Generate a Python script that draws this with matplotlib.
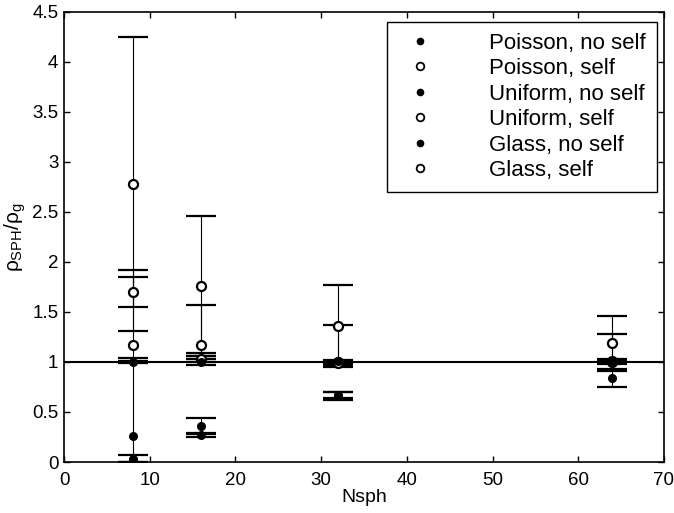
"""
Ratio of SPH density to true density versus number of neighbours
"""

import matplotlib.pyplot as plt
from matplotlib.lines import Line2D

plt.rcParams['font.family'] = ['Liberation Sans', 'DejaVu Sans']
plt.rcParams['mathtext.fontset'] = 'custom'
plt.rcParams['mathtext.rm'] = 'Liberation Sans'
plt.rcParams['mathtext.it'] = 'Liberation Sans'

# number of SPH neighbours
nsph = [8, 16, 32, 64]

labels = ['Poisson, no self', 'Poisson, self',
          'Uniform, no self', 'Uniform, self',
          'Glass, no self', 'Glass, self']

# mean density ratio per series
poisson_noself = [0.26, 0.36, 0.66, 0.84]
poisson_self = [2.78, 1.76, 1.36, 1.19]
uniform_noself = [0.03, 0.27, 0.67, 1.01]
uniform_self = [1.70, 1.17, 1.00, 1.01]
glass_noself = [1.00, 1.00, 1.01, 1.01]
glass_self = [1.17, 1.03, 0.99, 1.00]

# lower / upper error per series
poisson_noself_lo = [0.26, 0.08, 0.04, 0.09]
poisson_noself_hi = [0.74, 0.08, 0.04, 0.09]
poisson_self_lo = [1.47, 0.70, 0.41, 0.27]
poisson_self_hi = [1.47, 0.70, 0.41, 0.27]
uniform_noself_lo = [0.03, 0.02, 0.03, 0.02]
uniform_noself_hi = [0.04, 0.02, 0.03, 0.02]
uniform_self_lo = [0.15, 0.08, 0.02, 0.02]
uniform_self_hi = [0.15, 0.40, 0.37, 0.27]
glass_noself_lo = [0.01, 0.03, 0.01, 0.10]
glass_noself_hi = [0.01, 0.03, 0.01, 0.01]
glass_self_lo = [0.13, 0.03, 0.02, 0.02]
glass_self_hi = [0.75, 0.03, 0.02, 0.02]

series = [
    (poisson_noself, poisson_noself_lo, poisson_noself_hi, True),
    (poisson_self, poisson_self_lo, poisson_self_hi, False),
    (uniform_noself, uniform_noself_lo, uniform_noself_hi, True),
    (uniform_self, uniform_self_lo, uniform_self_hi, False),
    (glass_noself, glass_noself_lo, glass_noself_hi, True),
    (glass_self, glass_self_lo, glass_self_hi, False),
]

fig = plt.figure(figsize=(6.74, 5.13), dpi=100)
ax = fig.add_axes([0.095, 0.0994, 0.890, 0.8776])

# reference line at ratio 1
ax.axhline(1.0, color='black', lw=1.5, zorder=1)

for y, lo, hi, filled in series:
    ax.errorbar(nsph, y, yerr=[lo, hi], fmt='none', ecolor='black',
                elinewidth=0.8, capsize=10.5, capthick=1.6, ls=':', zorder=2)
    if filled:
        ax.plot(nsph, y, 'o', color='black', ms=5.5, ls='none', zorder=4)
    else:
        ax.plot(nsph, y, 'o', mfc='white', mec='black', mew=1.6, ms=6.5,
                ls='none', zorder=3)

ax.set_xlim(0, 70)
ax.set_ylim(0, 4.5)
ax.set_xticks(range(0, 71, 10))
ax.set_yticks([0, 0.5, 1, 1.5, 2, 2.5, 3, 3.5, 4, 4.5])
ax.set_yticklabels(['0', '0.5', '1', '1.5', '2', '2.5', '3', '3.5', '4', '4.5'])
ax.tick_params(direction='in', top=True, right=True, labelsize=13.5,
               length=4, width=1)
ax.tick_params(axis='x', pad=7)
ax.tick_params(axis='y', pad=4)
for s in ax.spines.values():
    s.set_linewidth(1.2)

ax.set_xlabel('Nsph', fontsize=14, labelpad=0)
ax.set_ylabel(r'$\rho_{SPH}/\rho_g$', fontsize=15, labelpad=3)

# legend with marker only
handles = []
for i, lab in enumerate(labels):
    if i % 2 == 0:
        h = Line2D([], [], marker='o', color='black', ms=4.5, ls='none')
    else:
        h = Line2D([], [], marker='o', mfc='white', mec='black', mew=1.3,
                   ms=5.5, ls='none')
    handles.append(h)
leg = ax.legend(handles, labels, loc='upper right', fontsize=16,
                frameon=True, fancybox=False, framealpha=1,
                edgecolor='black', handletextpad=2.1, labelspacing=0.2,
                borderpad=0.5, borderaxespad=0,
                bbox_to_anchor=(0.988, 0.978))
leg.get_frame().set_linewidth(1.0)

plt.savefig('out.png', dpi=100)
plt.close()
